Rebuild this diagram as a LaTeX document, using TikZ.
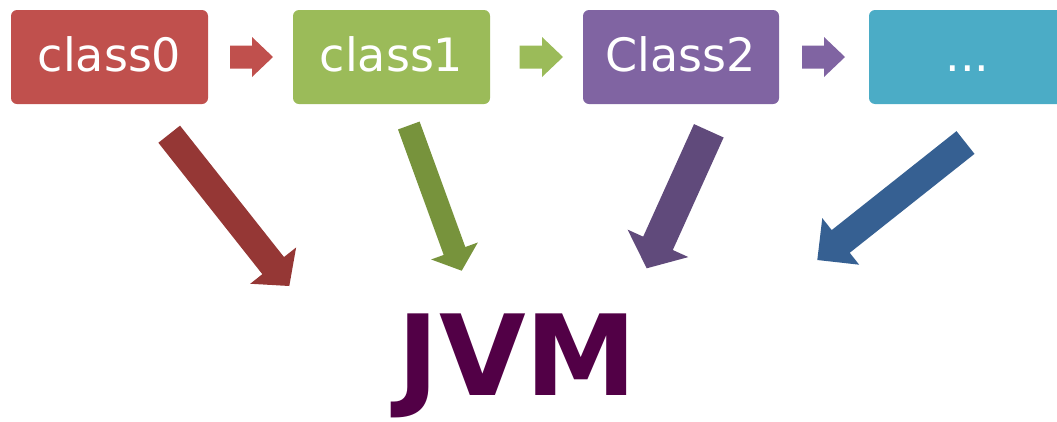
\documentclass[tikz,border=0pt]{standalone}
\usepackage{fontspec}
\usetikzlibrary{calc}
\newfontfamily\boxfont{DejaVu Sans}
\newfontfamily\jvmfamily{DejaVu Sans}[BoldFont={DejaVu Sans Bold}]

\definecolor{boxred}{HTML}{C0504D}
\definecolor{boxgreen}{HTML}{9BBB59}
\definecolor{boxpurple}{HTML}{8064A2}
\definecolor{boxteal}{HTML}{4BACC6}
\definecolor{arrred}{HTML}{953735}
\definecolor{arrgreen}{HTML}{77933C}
\definecolor{arrpurple}{HTML}{604A7B}
\definecolor{arrblue}{HTML}{366092}
\definecolor{jvmcol}{RGB}{82,0,70}

% Block arrow: colour, tail, tip, shaft width, head width, head length
\newcommand\blockarrow[6]{%
  \coordinate (#2-h) at ($(#3)!#6!(#2)$);
  \fill[#1] ($(#2)!0.5*#4!90:(#3)$) -- ($(#2-h)!0.5*#4!90:(#3)$)
    -- ($(#2-h)!0.5*#5!90:(#3)$) -- (#3)
    -- ($(#2-h)!0.5*#5!-90:(#3)$) -- ($(#2-h)!0.5*#4!-90:(#3)$)
    -- ($(#2)!0.5*#4!-90:(#3)$) -- cycle;
}

\tikzset{
  classbox/.style={rectangle, rounded corners=6pt, inner sep=0pt,
    minimum width=197pt, minimum height=94pt, text=white,
    font=\boxfont\fontsize{46pt}{50pt}\selectfont,
    text height=29.5pt, text depth=0pt},
}

\begin{document}
\begin{tikzpicture}[x=1pt,y=-1pt]
  \useasboundingbox (0,0) rectangle (1057,421);
  \clip (0,0) rectangle (1057,421);

  % class boxes
  \node[classbox, fill=boxred]    (c0) at (109.5,57) {class0};
  \node[classbox, fill=boxgreen]  (c1) at (391.5,57) {class1};
  \node[classbox, fill=boxpurple, minimum width=196pt] (c2) at (681,57) {Class2};
  \node[classbox, fill=boxteal]   (c3) at (967.5,57) {...};

  % small arrows between the boxes
  \coordinate (s01) at (230,57);   \coordinate (e01) at (273,57);
  \coordinate (s12) at (519.5,57); \coordinate (e12) at (563,57);
  \coordinate (s23) at (802,57);   \coordinate (e23) at (845,57);
  \blockarrow{boxred}{s01}{e01}{23pt}{40pt}{21pt}
  \blockarrow{boxgreen}{s12}{e12}{23pt}{40pt}{21pt}
  \blockarrow{boxpurple}{s23}{e23}{23pt}{40pt}{21pt}

  % JVM label
  \node[anchor=base, inner sep=0pt, text=jvmcol,
        font=\jvmfamily\bfseries\fontsize{112pt}{118pt}\selectfont]
        (jvm) at (517.5,395) {JVM};

  % large arrows pointing down to the JVM
  \coordinate (t0) at (169.2,134.2); \coordinate (p0) at (289.3,286);
  \coordinate (t1) at (408.8,125.5); \coordinate (p1) at (461.7,270.7);
  \coordinate (t2) at (708.8,130.8); \coordinate (p2) at (646.7,268.3);
  \coordinate (t3) at (965.5,142.5); \coordinate (p3) at (817.3,260);
  \blockarrow{arrred}{t0}{p0}{27.6pt}{58.5pt}{26pt}
  \blockarrow{arrgreen}{t1}{p1}{23pt}{49.7pt}{21pt}
  \blockarrow{arrpurple}{t2}{p2}{32.5pt}{66.7pt}{27.4pt}
  \blockarrow{arrblue}{t3}{p3}{29pt}{59.4pt}{29.9pt}
\end{tikzpicture}
\end{document}
